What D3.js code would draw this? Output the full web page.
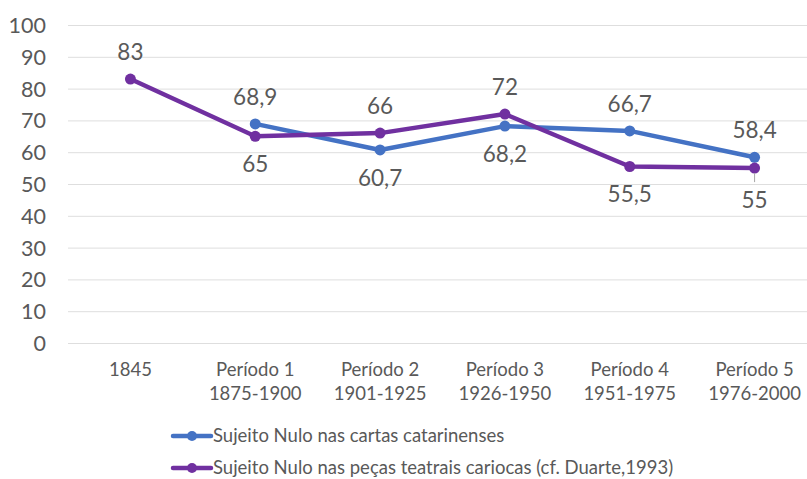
<!DOCTYPE html>
<html>
<head>
<meta charset="utf-8">
<script src="https://cdn.jsdelivr.net/npm/d3@7"></script>
<style>
  body { margin: 0; background: #fff; }
  text { font-family: Lato, "Open Sans", "Liberation Sans", sans-serif; fill: #595959; }
</style>
</head>
<body>
<div class="canvas"></div>
<script>
const categories = ["1845", "Período 1|1875-1900", "Período 2|1901-1925", "Período 3|1926-1950", "Período 4|1951-1975", "Período 5|1976-2000"]
const yTicks = [0, 10, 20, 30, 40, 50, 60, 70, 80, 90, 100]

const cartasValues = [null, 68.9, 60.7, 68.2, 66.7, 58.4]
const cartasLabelPos = [null, "above", "below", "below", "above", "above"]
const pecasValues = [83, 65, 66, 72, 55.5, 55]
const pecasLabelPos = ["above", "below", "above", "above", "below", "below"]

const seriesNames = ["Sujeito Nulo nas cartas catarinenses", "Sujeito Nulo nas peças teatrais cariocas (cf. Duarte,1993)"]

const width = 807
const height = 479

const svg = d3.select(".canvas").append("svg")
    .attr("width", width)
    .attr("height", height)

const x = d3.scaleBand()
    .domain(categories)
    .range([68, 817])

const y = d3.scaleLinear()
    .domain([0, 100])
    .range([343, 25])

// gridlines
svg.append("g")
    .selectAll("line")
    .data(yTicks)
    .enter()
    .append("line")
    .attr("x1", 68)
    .attr("x2", width)
    .attr("y1", d => y(d) + 0.5)
    .attr("y2", d => y(d) + 0.5)
    .attr("stroke", "#dedede")
    .attr("stroke-width", 1)

// y axis labels
const yAxis = d3.axisLeft(y).tickValues(yTicks).tickSize(0).tickPadding(0)
const yAxisGroup = svg.append("g")
    .attr("transform", "translate(46, 0)")
    .call(yAxis)
yAxisGroup.select(".domain").remove()
yAxisGroup.selectAll("text")
    .attr("font-size", 21.5)
    .attr("font-family", null)
    .attr("fill", null)
    .attr("dy", "0.35em")

// x axis labels
const xAxisGroup = svg.append("g")
    .attr("transform", "translate(0, 343)")
    .call(d3.axisBottom(x).tickSize(0).tickFormat(""))
xAxisGroup.select(".domain").remove()
xAxisGroup.selectAll(".tick").each(function(d) {
    const t = d3.select(this).append("text")
        .attr("text-anchor", "middle")
        .attr("font-size", 18.5)
        .attr("y", 33)
    d.split("|").forEach((part, i) => {
        t.append("tspan")
            .attr("x", 0)
            .attr("dy", i === 0 ? 0 : 24)
            .text(part)
    })
})

const line = d3.line()
    .defined(d => d.v !== null)
    .x(d => x(d.c) + x.bandwidth() / 2)
    .y(d => y(d.v))

function drawSeries(values, positions, color) {
    const data = values.map((v, i) => ({ c: categories[i], v: v, pos: positions[i] }))
    const g = svg.append("g")
    g.append("path")
        .datum(data)
        .attr("d", line)
        .attr("fill", "none")
        .attr("stroke", color)
        .attr("stroke-width", 4.5)
        .attr("stroke-linejoin", "round")
        .attr("stroke-linecap", "round")
    const pts = data.filter(d => d.v !== null)
    g.selectAll("circle")
        .data(pts)
        .enter()
        .append("circle")
        .attr("cx", d => x(d.c) + x.bandwidth() / 2)
        .attr("cy", d => y(d.v))
        .attr("r", 5.5)
        .attr("fill", color)
    return pts
}

const cartasPts = drawSeries(cartasValues, cartasLabelPos, "#4472c4")
const pecasPts = drawSeries(pecasValues, pecasLabelPos, "#7030a0")

// data labels
const labels = svg.append("g")
const last = pecasPts[pecasPts.length - 1]
cartasPts.concat(pecasPts).forEach(d => {
    let off = d.pos === "above" ? -27 : 28
    if (d === last) off = 32
    labels.append("text")
        .attr("x", x(d.c) + x.bandwidth() / 2)
        .attr("y", y(d.v) + off)
        .attr("dy", "0.35em")
        .attr("text-anchor", "middle")
        .attr("font-size", 22.5)
        .text(String(d.v).replace(".", ","))
})

// small leader line at last purple label
svg.append("line")
    .attr("x1", x(last.c) + x.bandwidth() / 2)
    .attr("x2", x(last.c) + x.bandwidth() / 2)
    .attr("y1", y(last.v) + 5)
    .attr("y2", y(last.v) + 14)
    .attr("stroke", "#a6a6a6")
    .attr("stroke-width", 1)

// legend
const legendColors = ["#4472c4", "#7030a0"]
const legend = svg.append("g")
seriesNames.forEach((name, i) => {
    const ly = 436 + i * 32
    legend.append("line")
        .attr("x1", 173).attr("x2", 211)
        .attr("y1", ly).attr("y2", ly)
        .attr("stroke", legendColors[i])
        .attr("stroke-width", 4.5)
        .attr("stroke-linecap", "round")
    legend.append("circle")
        .attr("cx", 192).attr("cy", ly)
        .attr("r", 5)
        .attr("fill", legendColors[i])
    legend.append("text")
        .attr("x", 213)
        .attr("y", ly)
        .attr("dy", "0.35em")
        .attr("font-size", 18.5)
        .text(name)
})
</script>
</body>
</html>
